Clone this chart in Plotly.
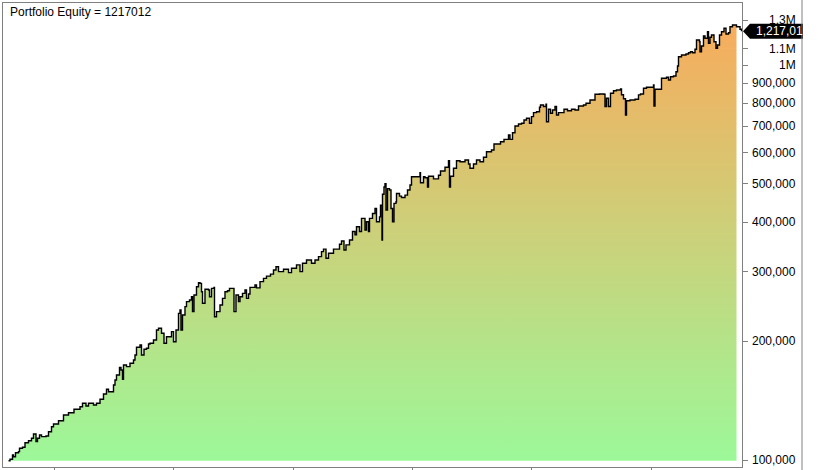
import math
import plotly.graph_objects as go

# ---- data (bar index ~ trading day, equity value) ----
bars = [1, 4, 9, 11, 15, 21, 23, 29, 34, 41, 47, 51, 54, 56, 59, 63, 67, 76, 81, 87,
        91, 101, 111, 121, 132, 144, 149, 156, 161, 171, 177, 184, 191, 197, 201, 211, 214, 217, 223, 226,
        229, 231, 237, 244, 251, 254, 257, 264, 267, 272, 277, 281, 284, 291, 297, 301, 307, 312, 317, 327,
        331, 336, 341, 344, 346, 349, 354, 357, 363, 367, 369, 372, 377, 381, 384, 387, 389, 394, 401, 403,
        407, 412, 413, 417, 424, 429, 434, 439, 443, 447, 452, 456, 461, 464, 469, 474, 477, 481, 484, 494,
        497, 504, 511, 517, 525, 531, 536, 541, 551, 557, 561, 567, 577, 584, 589, 597, 604, 607, 614, 621,
        627, 631, 636, 641, 644, 651, 659, 663, 667, 672, 676, 683, 689, 694, 697, 703, 707, 712, 714, 717,
        721, 723, 729, 734, 737, 743, 745, 748, 749, 752, 754, 756, 759, 763, 766, 769, 772, 776, 777, 783,
        787, 794, 799, 804, 807, 817, 824, 825, 831, 834, 839, 841, 851, 861, 865, 874, 881, 883, 885, 891,
        897, 904, 914, 921, 924, 931, 937, 944, 951, 957, 967, 972, 981, 985, 992, 1001, 1004, 1009, 1014, 1021,
        1027, 1032, 1037, 1043, 1047, 1051, 1057, 1063, 1065, 1071, 1076, 1077, 1081, 1085, 1089, 1094, 1097, 1101, 1107, 1112,
        1119, 1127, 1134, 1141, 1151, 1156, 1164, 1174, 1183, 1192, 1194, 1197, 1201, 1205, 1211, 1217, 1225, 1227, 1231, 1235,
        1237, 1244, 1254, 1261, 1265, 1271, 1277, 1287, 1291, 1292, 1294, 1303, 1307, 1317, 1321, 1325, 1331, 1336, 1339, 1341,
        1347, 1356, 1361, 1365, 1369, 1374, 1377, 1383, 1384, 1387, 1391, 1394, 1399, 1401, 1404, 1407, 1412, 1416, 1419, 1423,
        1427, 1432, 1436, 1441, 1444, 1449, 1454, 1457, 1464, 1467]

equity = [99600, 100400, 103000, 101900, 104300, 105000, 107100, 107700, 110600, 111900,
          113500, 116400, 116400, 111300, 113500, 115700, 114600, 115000, 117900, 121400,
          123300, 125700, 130000, 131700, 134400, 136400, 139200, 137000, 139200, 137800,
          139200, 142500, 146900, 151000, 148900, 154800, 159400, 164100, 171400, 169000,
          160000, 174000, 172300, 175700, 179100, 184400, 192900, 195500, 184400, 190700,
          191800, 196700, 197500, 201300, 213400, 215500, 209300, 197500, 205200, 211400,
          199300, 213400, 235100, 239800, 213400, 232800, 244500, 251700, 254200, 259100,
          237500, 261700, 274600, 281000, 280000, 266700, 249300, 270500, 269400, 259100,
          272000, 273600, 230500, 237500, 246900, 256600, 266700, 268200, 272000, 272000,
          237500, 261700, 251700, 259100, 264100, 269400, 256600, 263100, 273600, 277500,
          272800, 282800, 288300, 292100, 295500, 302700, 308600, 299800, 304000, 304000,
          298100, 305800, 311800, 299800, 314900, 320900, 320900, 314900, 320900, 327200,
          337000, 341800, 324100, 333700, 333700, 341800, 341800, 351800, 358600, 340200,
          350400, 360600, 378800, 371600, 389600, 378800, 408900, 408900, 382200, 401000,
          378800, 408900, 420900, 433300, 401000, 412700, 441800, 360600, 470900, 490900,
          500500, 429500, 486400, 482600, 433300, 401000, 446400, 450700, 472800, 465600,
          462000, 468300, 482600, 497000, 521100, 521100, 533900, 503400, 521100, 518100,
          490900, 522900, 515000, 526100, 539000, 550800, 572500, 490900, 522900, 547600,
          572500, 569200, 574900, 561700, 547600, 561700, 574900, 569200, 583900, 603300,
          609400, 631000, 631000, 639400, 648400, 664900, 648400, 673900, 700800, 709000,
          711800, 725900, 732900, 711800, 740000, 757400, 761700, 781500, 791900, 784900,
          795200, 718600, 772500, 755000, 769500, 784900, 747200, 757400, 757400, 772500,
          766200, 772500, 769500, 787400, 791900, 799900, 815600, 843200, 844300, 843200,
          784900, 823800, 784900, 848200, 861000, 864600, 869600, 840700, 821300, 747200,
          812200, 815600, 818900, 840000, 844300, 873000, 878200, 878200, 890300, 787400,
          868000, 868000, 925400, 930800, 916500, 934100, 937900, 961700, 994300, 1049500,
          1060000, 1066000, 1074200, 1080600, 1074200, 1096000, 1157100, 1145600, 1080600, 1117200,
          1184400, 1168600, 1214400, 1134900, 1175400, 1191200, 1145600, 1102500, 1123700, 1191200,
          1214400, 1238600, 1198300, 1207400, 1250200, 1262600, 1262600, 1250200, 1231500, 1217012]

year_start_bars = [92, 331, 570, 809, 1047, 1286]
ytick_values = [100000, 200000, 300000, 400000, 500000, 600000, 700000,
                800000, 900000, 1000000, 1100000, 1300000]
ytick_labels = ["100,000", "200,000", "300,000", "400,000", "500,000", "600,000",
                "700,000", "800,000", "900,000", "1M", "1.1M", "1.3M"]
final_equity = 1217012
final_label = "1,217,012"
title_text = "Portfolio Equity = 1217012"

assert len(bars) == len(equity)

GRAY = "#808080"
FONT = "Arial, Liberation Sans, sans-serif"
Y_RANGE = [4.98228, 6.15698]

fig = go.Figure()

fill_n = len(bars) - 2
base = min(equity)
fig.add_trace(go.Scatter(x=[bars[0], bars[fill_n - 1]], y=[base, base], mode="lines",
                         line=dict(width=0, color="rgba(0,0,0,0)"), hoverinfo="skip",
                         showlegend=False))
fig.add_trace(go.Scatter(x=bars[:fill_n], y=equity[:fill_n], mode="lines",
                         line=dict(width=0, shape="hv", color="rgba(0,0,0,0)"),
                         fill="tonexty",
                         fillgradient=dict(type="vertical",
                                           colorscale=[[0, "rgb(156,248,153)"],
                                                       [1, "rgb(247,172,93)"]]),
                         hoverinfo="skip", showlegend=False))
fig.add_trace(go.Scatter(x=bars, y=equity, mode="lines",
                         line=dict(color="black", width=1.4, shape="hv"),
                         showlegend=False))

annotations = []
for v, t in zip(ytick_values, ytick_labels):
    annotations.append(dict(x=1.0758, xref="paper", y=math.log10(v), yref="y",
                            text=t, showarrow=False, xanchor="right", yanchor="middle",
                            font=dict(family=FONT, size=12, color="black")))
annotations.append(dict(x=0.0068, xref="paper", y=0.9806, yref="paper", text=title_text,
                        showarrow=False, xanchor="left", yanchor="middle",
                        font=dict(family=FONT, size=12, color="black")))

final_paper_y = (math.log10(final_equity) - Y_RANGE[0]) / (Y_RANGE[1] - Y_RANGE[0])
annotations.append(dict(x=1.0162, xref="paper", y=final_paper_y, yref="paper",
                        text=final_label, showarrow=False, xanchor="left", yanchor="middle",
                        font=dict(family=FONT, size=12, color="white")))

shapes = [
    dict(type="path", xref="paper", yref="paper", xsizemode="pixel", ysizemode="pixel",
         xanchor=1.0, yanchor=final_paper_y,
         path="M1,0 L8,7.5 L61,7.5 L61,-7.5 L8,-7.5 Z",
         fillcolor="black", line=dict(width=0), layer="above"),
    dict(type="line", xref="paper", yref="paper", x0=1.0812, x1=1.0812, y0=-0.02, y1=1.02,
         line=dict(color=GRAY, width=1)),
]

fig.update_layout(
    width=818, height=470,
    margin=dict(l=3, r=76, t=3, b=3, autoexpand=False),
    paper_bgcolor="white", plot_bgcolor="white",
    showlegend=False,
    annotations=annotations,
    shapes=shapes,
    xaxis=dict(range=[-10, 1468], showgrid=False, zeroline=False, automargin=False,
               showline=True, linecolor=GRAY, linewidth=1, mirror=True,
               ticks="outside", ticklen=5, tickcolor=GRAY, tickwidth=1,
               tickvals=year_start_bars, showticklabels=False),
    yaxis=dict(type="log", side="right", range=Y_RANGE, automargin=False,
               showgrid=False, zeroline=False,
               showline=True, linecolor=GRAY, linewidth=1, mirror=True,
               ticks="outside", ticklen=5, tickcolor=GRAY, tickwidth=1,
               tickvals=ytick_values, showticklabels=False),
)

fig.write_html("out.html", config={"displayModeBar": False},
               post_script="document.body.style.margin='0px';document.body.style.overflow='hidden';")
